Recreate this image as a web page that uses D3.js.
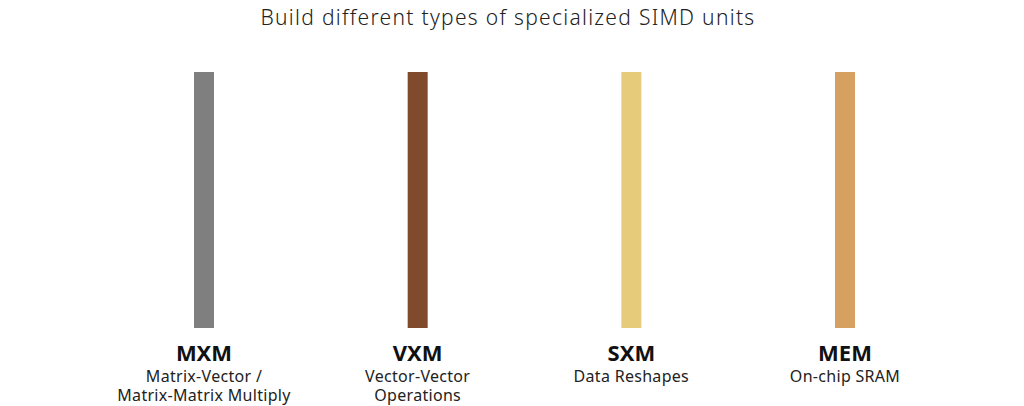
<!DOCTYPE html>
<html><head><meta charset="utf-8">
<script src="https://cdn.jsdelivr.net/npm/d3@7"></script>
<style>body{margin:0;background:#fff;}</style>
</head><body><div id="chart"></div>
<script>
// Data
const units = ["MXM", "VXM", "SXM", "MEM"];
const descriptions = [["Matrix-Vector /", "Matrix-Matrix Multiply"], ["Vector-Vector", "Operations"], ["Data Reshapes"], ["On-chip SRAM"]];
const colors = ["#7f7f7f", "#804a2d", "#e6cc7a", "#d6a060"];
const barValue = [1, 1, 1, 1];
const title = "Build different types of specialized SIMD units";

const width = 1024, height = 406;
const svg = d3.select("#chart").append("svg")
    .attr("width", width).attr("height", height)
    .style("font-family", "'Noto Sans', sans-serif");

svg.append("text")
    .attr("x", 508).attr("y", 25)
    .attr("text-anchor", "middle")
    .style("font-size", "21px").style("font-weight", 300)
    .style("letter-spacing", "1.3px").attr("fill", "#222")
    .text(title);

const x = d3.scalePoint().domain(units).range([204, 845]);
const y = d3.scaleLinear().domain([0, 1]).range([328, 72]);

svg.selectAll("rect.bar").data(units).enter().append("rect")
    .attr("class", "bar")
    .attr("x", d => x(d) - 10)
    .attr("width", 20)
    .attr("y", (d, i) => y(barValue[i]))
    .attr("height", (d, i) => y(0) - y(barValue[i]))
    .attr("fill", (d, i) => colors[i]);

svg.selectAll("text.unit").data(units).enter().append("text")
    .attr("class", "unit")
    .attr("x", d => x(d)).attr("y", 361)
    .attr("text-anchor", "middle")
    .style("font-size", "22px").style("font-weight", 700).attr("fill", "#111")
    .text(d => d);

units.forEach((u, i) => {
    descriptions[i].forEach((line, j) => {
        svg.append("text")
            .attr("x", x(u)).attr("y", 382 + j * 19)
            .attr("text-anchor", "middle")
            .style("font-size", "16px").style("letter-spacing", "0.3px").attr("fill", "#222")
            .text(line);
    });
});
</script></body></html>
